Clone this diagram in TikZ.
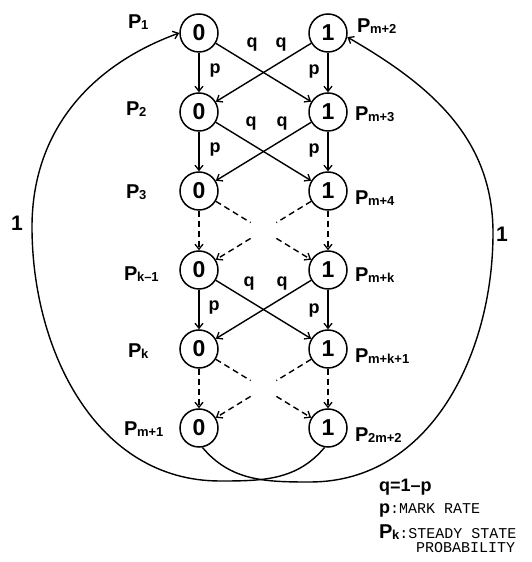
\documentclass[tikz,border=0pt]{standalone}
\usepackage{fontspec}
\setmainfont{Liberation Sans}
\newfontfamily\monof{Liberation Mono}
\usetikzlibrary{arrows.meta,calc}
\newcommand{\PL}[1]{P\kern-0.5pt\raisebox{-1.5pt}{\fontsize{13}{13}\selectfont #1}}
\tikzset{
 st/.style={circle,draw,line width=1.5pt,minimum size=38pt,inner sep=0pt,font=\fontsize{23}{23}\selectfont\bfseries},
 arr/.style={line width=1.4pt,-{Straight Barb[length=5pt,width=8pt,line width=1.3pt]}},
 dsh/.style={arr,dash pattern=on 6pt off 4pt},
 lbl/.style={font=\fontsize{20}{20}\selectfont\bfseries,inner sep=0pt,anchor=west},
 ql/.style={font=\fontsize{18}{18}\selectfont\bfseries,inner sep=0pt},
 leg/.style={inner sep=0pt,anchor=west},
}
\begin{document}
\begin{tikzpicture}[x=1pt,y=1pt]
\useasboundingbox (0,0) rectangle (532,562);
% states
\foreach \i/\y in {1/529,2/450,3/371,4/292,5/213,6/134}{
  \node[st] (L\i) at (199,\y) {0};
  \node[st] (R\i) at (328,\y) {1};
}
% probability labels
\node[lbl] (pa) at (128,540) {\PL{1}};
\node[lbl] (pb) at (126,453) {\PL{2}};
\node[lbl] (pc) at (126,370) {\PL{3}};
\node[lbl] (pd) at (124,288) {\PL{k--1}};
\node[lbl] (pe) at (128,211) {\PL{k}};
\node[lbl] (pf) at (124,133) {\PL{m+1}};
\node[lbl] (qa) at (357,536) {\PL{m+2}};
\node[lbl] (qb) at (355,448) {\PL{m+3}};
\node[lbl] (qc) at (355,364) {\PL{m+4}};
\node[lbl] (qd) at (355,287) {\PL{m+k}};
\node[lbl] (qe) at (355,206) {\PL{m+k+1}};
\node[lbl] (qf) at (355,127) {\PL{2m+2}};
% vertical transitions
\draw[arr] (L1) -- (L2);
\draw[arr] (L2) -- (L3);
\draw[dsh] (L3) -- (L4);
\draw[arr] (L4) -- (L5);
\draw[dsh] (L5) -- (L6);
\draw[arr] (R1) -- (R2);
\draw[arr] (R2) -- (R3);
\draw[dsh] (R3) -- (R4);
\draw[arr] (R4) -- (R5);
\draw[dsh] (R5) -- (R6);
% diagonal transitions
\draw[arr] (L1) -- (R2);
\draw[arr] (R1) -- (L2);
\draw[arr] (L2) -- (R3);
\draw[arr] (R2) -- (L3);
\draw[arr] (L4) -- (R5);
\draw[arr] (R4) -- (L5);
\draw[dsh,-] (L3) -- ($(L3)!0.4!(R4)$);
\draw[dsh] ($(L3)!0.6!(R4)$) -- (R4);
\draw[dsh,-] (R3) -- ($(R3)!0.4!(L4)$);
\draw[dsh] ($(R3)!0.6!(L4)$) -- (L4);
\draw[dsh,-] (L5) -- ($(L5)!0.4!(R6)$);
\draw[dsh] ($(L5)!0.6!(R6)$) -- (R6);
\draw[dsh,-] (R5) -- ($(R5)!0.4!(L6)$);
\draw[dsh] ($(R5)!0.6!(L6)$) -- (L6);
% p and q labels
\node[ql] (p1) at (215,491) {p};
\node[ql] (p2) at (215,412) {p};
\node[ql] (p3) at (214,254) {p};
\node[ql] (p4) at (314,490) {p};
\node[ql] (p5) at (314,411) {p};
\node[ql] (p6) at (314,251) {p};
\node[ql] (q1) at (252,517) {q};
\node[ql] (q2) at (281,517) {q};
\node[ql] (q3) at (251,438) {q};
\node[ql] (q4) at (282,438) {q};
\node[ql] (q5) at (249,278) {q};
\node[ql] (q6) at (282,278) {q};
% return arcs
\coordinate (lb) at (220,81);
\coordinate (lm) at (32,335);
\draw[arr] (R6.-100) to[out=-130,in=0] (lb) to[out=180,in=-90] (lm) to[out=90,in=200] (L1.180);
\coordinate (rb) at (310,80);
\coordinate (rm) at (493,329);
\draw[arr] (L6.-80) to[out=-50,in=180] (rb) to[out=0,in=-90] (rm) to[out=90,in=-30] (R1.-12);
\node[font=\fontsize{21}{21}\selectfont\bfseries,inner sep=0pt] (one1) at (17,339) {1};
\node[font=\fontsize{21}{21}\selectfont\bfseries,inner sep=0pt] (one2) at (502,328) {1};
% legend
\node[leg,font=\fontsize{18}{18}\selectfont\bfseries] (lg1) at (379,75) {q=1–p};
\node[leg] (lg2) at (379,52) {\fontsize{18}{18}\selectfont\bfseries p{\monof\fontsize{15}{15}\selectfont\mdseries :MARK RATE}};
\node[leg] (lg3) at (379,30) {\fontsize{20}{20}\selectfont\bfseries \PL{k}{\monof\fontsize{15}{15}\selectfont\mdseries :STEADY STATE}};
\node[leg,font=\monof\fontsize{15}{15}\selectfont] (lg4) at (416,14) {PROBABILITY};
\end{tikzpicture}
\end{document}
